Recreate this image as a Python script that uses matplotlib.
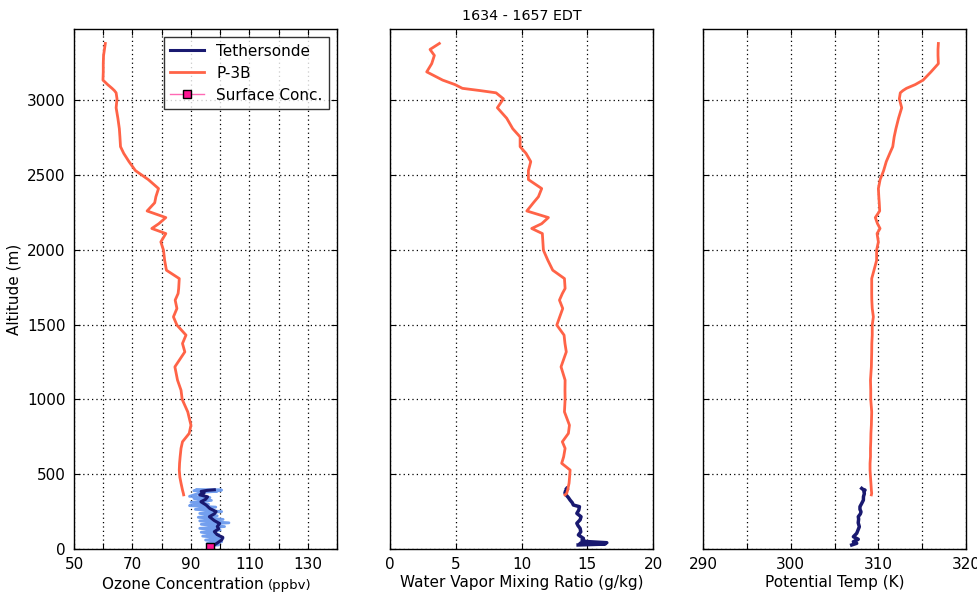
import matplotlib
matplotlib.use("Agg")
import matplotlib.pyplot as plt

# ---- P-3B aircraft profile (shared altitude levels, m) ----
p3b_alt = [3380, 3340, 3300, 3245, 3190, 3135, 3105, 3080, 3065, 3050, 3010, 2950,
           2880, 2810, 2755, 2690, 2645, 2590, 2530, 2470, 2410, 2355, 2315, 2260,
           2216, 2175, 2143, 2109, 2053, 1998, 1930, 1864, 1808, 1742, 1708, 1664,
           1608, 1552, 1497, 1430, 1374, 1318, 1218, 1129, 1062, 1000, 917, 828,
           773, 717, 673, 617, 573, 528, 480, 440, 394, 372, 362]
p3b_o3 = [60.7, 60.4, 60.1, 60.0, 60.0, 59.9, 61.5, 63.0, 63.8, 64.4, 64.7, 64.4,
          65.0, 65.5, 65.7, 65.9, 67.0, 68.8, 71.0, 75.4, 78.9, 78.0, 77.6, 75.0,
          81.4, 79.0, 76.6, 81.4, 79.7, 80.6, 81.0, 81.6, 86.0, 85.8, 85.6, 84.6,
          85.2, 84.0, 85.2, 88.3, 87.1, 87.9, 84.5, 85.4, 86.6, 87.0, 88.9, 90.0,
          89.4, 87.1, 86.6, 86.3, 86.1, 86.0, 86.2, 86.6, 87.1, 87.4, 87.5]
p3b_wv = [3.75, 3.04, 3.37, 3.17, 2.79, 4.0, 4.94, 5.5, 6.84, 8.06, 8.62, 8.16,
          8.87, 9.33, 9.89, 9.89, 10.34, 10.7, 10.52, 10.52, 11.53, 11.28, 10.9, 10.4,
          12.04, 11.53, 10.77, 11.58, 11.62, 11.66, 12.0, 12.37, 13.26, 13.31, 13.1, 12.88,
          13.13, 12.9, 12.68, 13.23, 13.3, 13.4, 13.0, 13.31, 13.3, 13.31, 13.26, 13.64,
          13.56, 13.1, 13.31, 13.2, 13.05, 13.69, 13.65, 13.61, 13.5, 13.43, 13.3]
p3b_theta = [316.84, 316.8, 316.8, 316.84, 316.0, 315.1, 314.2, 313.2, 312.8, 312.5, 312.39, 312.66,
             312.3, 312.0, 311.8, 311.64, 311.3, 310.9, 310.6, 310.2, 310.0, 310.05, 310.1, 310.15,
             309.65, 309.9, 310.19, 309.85, 310.0, 309.8, 309.8, 309.5, 309.24, 309.24, 309.24, 309.25,
             309.3, 309.43, 309.3, 309.3, 309.25, 309.24, 309.2, 309.1, 309.13, 309.13, 309.24, 309.2,
             309.15, 309.13, 309.1, 309.1, 309.05, 309.05, 309.1, 309.15, 309.2, 309.24, 309.2]

# ---- Tethersonde ozone: raw samples and smoothed trace ----
teth_raw_alt = [20, 28, 36, 48, 60, 72, 86, 98, 112, 126, 138, 150, 165, 175, 188,
                198, 212, 222, 238, 250, 265, 280, 290, 300, 312, 325, 338, 344,
                352, 378, 386, 390, 394, 398]
teth_raw_o3 = [96.0, 99.5, 95.5, 100.5, 95.0, 101.0, 94.0, 99.5, 93.5, 100.0, 93.0,
               101.5, 93.5, 103.0, 93.0, 101.0, 92.5, 99.0, 93.0, 100.5, 91.5, 98.5,
               89.5, 96.0, 90.0, 97.0, 91.0, 96.5, 89.5, 93.5, 99.0, 91.0, 100.5, 92.0]
teth_o3_alt = [20, 40, 60, 78, 95, 116, 135, 150, 170, 190, 216, 235, 250, 270,
               294, 316, 332, 349, 362, 375, 385, 392, 396]
teth_o3 = [97.5, 99.0, 100.5, 100.9, 99.0, 98.0, 99.5, 99.0, 99.8, 98.0, 96.3,
           98.0, 98.6, 96.5, 95.2, 93.4, 95.0, 95.7, 93.0, 94.5, 93.5, 95.5, 98.0]

# ---- Tethersonde water vapour and potential temperature ----
teth_wv_alt = [27, 33, 38, 42, 50, 60, 71, 94, 115, 138, 155, 172, 195, 216, 238,
               260, 283, 294, 310, 327, 345, 360, 375, 390, 400, 405]
teth_wv = [14.3, 16.35, 14.45, 16.48, 14.9, 14.6, 14.7, 14.32, 14.5, 14.45, 14.3,
           14.2, 14.45, 14.52, 14.2, 14.35, 14.4, 13.94, 13.85, 13.69, 13.55, 13.4,
           13.3, 13.35, 13.5, 13.43]
teth_th_alt = [27, 38, 49, 65, 82, 105, 130, 149, 175, 200, 216, 235, 249, 265, 283,
               305, 327, 350, 370, 385, 394, 400, 405]
teth_theta = [306.96, 307.53, 307.15, 307.71, 307.15, 307.53, 307.7, 307.83, 307.7,
              307.75, 307.71, 307.95, 308.02, 307.9, 307.9, 308.1, 308.29, 308.3,
              308.4, 308.35, 308.48, 308.2, 308.1]

# ---- Surface ozone ----
sfc_alt = [15]
sfc_o3 = [96.5]

title_text = "1634 - 1657 EDT"

plt.rcParams.update({
    "font.family": "DejaVu Sans",
    "font.size": 11,
    "xtick.direction": "in",
    "ytick.direction": "in",
    "xtick.top": True,
    "ytick.right": True,
    "xtick.major.size": 4,
    "ytick.major.size": 4,
    "xtick.major.pad": 6,
    "ytick.major.pad": 6,
    "axes.linewidth": 1.0,
})

C_P3B = "#ff6347"
C_TETH = "#191970"
C_RAW = "#6495ed"

fig = plt.figure(figsize=(9.78, 5.97), dpi=100)
bottom, top = 0.0804, 0.951
h = top - bottom
w = 0.269
ax1 = fig.add_axes([0.0757, bottom, w, h])
ax2 = fig.add_axes([0.3988, bottom, w, h])
ax3 = fig.add_axes([0.7188, bottom, w, h])

YMAX = 3475

# Ozone
ax1.plot(teth_raw_o3, teth_raw_alt, color=C_RAW, lw=2.0, alpha=0.9)
ax1.plot(teth_o3, teth_o3_alt, color=C_TETH, lw=2.2, label="Tethersonde")
ax1.plot(p3b_o3, p3b_alt, color=C_P3B, lw=2.0, label="P-3B")
ax1.plot(sfc_o3, sfc_alt, color="#ff69b4", lw=1, marker="s", markersize=6,
         markerfacecolor="#ff1493", markeredgecolor="k", markeredgewidth=1,
         label="Surface Conc.")
ax1.set_xlim(50, 140)
ax1.set_xticks(range(50, 141, 10))
ax1.set_xticklabels([str(v) if (v - 50) % 20 == 0 else "" for v in range(50, 141, 10)])
ax1.set_ylabel("Altitude (m)")
leg = ax1.legend(loc="upper right", fontsize=11, frameon=True, fancybox=False,
                 borderaxespad=0.5, handlelength=2.2, labelspacing=0.45,
                 borderpad=0.45)
leg.get_frame().set_edgecolor("k")
leg.get_frame().set_linewidth(1.0)
ax1.text(0.722, -0.076, "Ozone Concentration", transform=ax1.transAxes,
         ha="right", va="baseline", fontsize=11)
ax1.text(0.735, -0.076, "(ppbv)", transform=ax1.transAxes,
         ha="left", va="baseline", fontsize=9.5)

# Water vapour
ax2.plot(teth_wv, teth_wv_alt, color=C_TETH, lw=2.5)
ax2.plot(p3b_wv, p3b_alt, color=C_P3B, lw=2.0)
ax2.set_xlim(0, 20)
ax2.set_xticks([0, 5, 10, 15, 20])
ax2.set_xlabel("Water Vapor Mixing Ratio (g/kg)", labelpad=2)
ax2.set_title(title_text, fontsize=10.3, pad=7)

# Potential temperature
ax3.plot(teth_theta, teth_th_alt, color=C_TETH, lw=2.5)
ax3.plot(p3b_theta, p3b_alt, color=C_P3B, lw=2.0)
ax3.set_xlim(290, 320)
ax3.set_xticks(range(290, 321, 5))
ax3.set_xticklabels([str(v) if v % 10 == 0 else "" for v in range(290, 321, 5)])
ax3.set_xlabel("Potential Temp (K)", labelpad=2)

for ax in (ax1, ax2, ax3):
    ax.set_ylim(0, YMAX)
    ax.set_yticks(range(0, 3001, 500))
    ax.grid(True, color="k", linestyle=(0, (1, 2.5)), linewidth=0.9)
for ax in (ax2, ax3):
    ax.set_yticklabels([])

fig.savefig("out.png", dpi=100, facecolor="white")
